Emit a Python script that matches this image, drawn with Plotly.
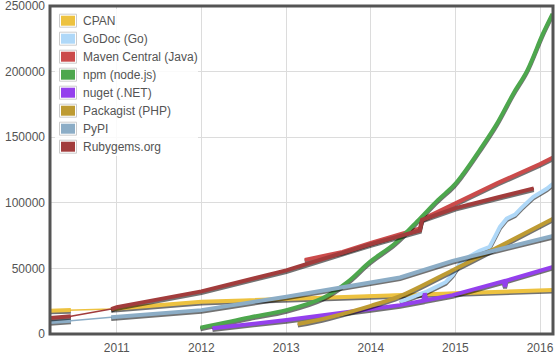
import plotly.graph_objects as go
import pandas as pd

# ---------------- data ----------------
series_names = ["CPAN", "GoDoc (Go)", "Maven Central (Java)", "npm (node.js)",
                "nuget (.NET)", "Packagist (PHP)", "PyPI", "Rubygems.org"]
series_colors = ["#edc240", "#afd8f8", "#cb4b4b", "#4da74d",
                 "#9440ed", "#be9b33", "#8cadc6", "#a23c3c"]

cpan_dates = ["2010-03-19", "2010-06-17", "2010-12-08", "2011-04-01", "2011-08-01",
              "2012-01-01", "2012-07-01", "2013-01-01", "2013-07-01", "2014-01-01",
              "2014-07-01", "2015-01-01", "2015-07-01", "2016-02-26"]
cpan_counts = [17800, 18200, 19000, 20500, 22500, 24500, 25600, 26700, 28000, 29300,
               30600, 31700, 32600, 33600]

godoc_dates = ["2014-05-07", "2014-06-19", "2014-09-01", "2014-11-20", "2014-12-20",
               "2015-01-22", "2015-02-20", "2015-04-15", "2015-05-29", "2015-06-20",
               "2015-07-12", "2015-08-10", "2015-09-15", "2015-10-12", "2015-12-02",
               "2016-01-30", "2016-02-26"]
godoc_counts = [24500, 27500, 32500, 39500, 45000, 54000, 58000, 63500, 66500, 74000,
                81600, 87900, 91000, 96000, 104400, 110700, 114500]

maven_dates = ["2013-03-22", "2013-09-01", "2014-01-01", "2014-08-01", "2014-08-12",
               "2015-01-01", "2015-07-01", "2016-01-01", "2016-02-26"]
maven_counts = [56500, 62500, 69500, 80500, 87500, 99500, 115000, 129500, 134500]

npm_dates = ["2011-12-28", "2012-07-27", "2013-01-02", "2013-06-08", "2013-09-25",
             "2013-12-28", "2014-04-15", "2014-08-01", "2014-10-17", "2014-12-24",
             "2015-02-03", "2015-04-15", "2015-06-28", "2015-09-07", "2015-11-06",
             "2016-01-13", "2016-02-24"]
npm_counts = [4800, 12700, 18200, 27400, 40000, 55000, 69000, 88000, 102000, 113000,
              122000, 140000, 160000, 183000, 200600, 228700, 244000]

nuget_dates = ["2012-02-18", "2013-01-02", "2014-01-01", "2014-05-07", "2014-08-15",
               "2014-08-22", "2014-08-29", "2014-12-20", "2015-07-28", "2015-08-03",
               "2015-08-09", "2016-02-26"]
nuget_counts = [4300, 10600, 19000, 22000, 25300, 31000, 25800, 29600, 40300, 36000,
                40700, 51200]

packagist_dates = ["2013-02-20", "2013-07-01", "2014-01-01", "2014-05-07", "2014-12-20",
                   "2015-08-03", "2016-02-26"]
packagist_counts = [7600, 12500, 21500, 28900, 48600, 68900, 87900]

pypi_dates = ["2010-03-19", "2010-06-17", "2010-12-08", "2012-01-01", "2013-01-02",
              "2014-01-01", "2014-05-07", "2014-12-20", "2015-07-01", "2016-02-26"]
pypi_counts = [9100, 10100, 12700, 18200, 28400, 39000, 43100, 55700, 64500, 74700]

rubygems_dates = ["2010-03-19", "2010-06-17", "2010-12-08", "2011-01-01", "2012-01-01",
                  "2013-01-01", "2014-01-01", "2014-08-01", "2014-08-10", "2015-01-01",
                  "2015-07-01", "2015-12-05"]
rubygems_counts = [12200, 13600, 19000, 20500, 32500, 48500, 68500, 79000, 87000, 96000,
                   104000, 111000]

all_dates = [cpan_dates, godoc_dates, maven_dates, npm_dates, nuget_dates,
             packagist_dates, pypi_dates, rubygems_dates]
all_counts = [cpan_counts, godoc_counts, maven_counts, npm_counts, nuget_counts,
              packagist_counts, pypi_counts, rubygems_counts]

y_tick_values = [0, 50000, 100000, 150000, 200000, 250000]
x_range = ["2010-03-19", "2016-02-26"]
data_gap = ("2010-06-25", "2010-12-01")   # period without samples (thin bridge)
smooth_series = {"npm (node.js)", "Packagist (PHP)"}

# ---------------- layout constants ----------------
W, H = 558, 356
ML, MR, MT, MB = 50, 5, 6, 22
PW, PH = W - ML - MR, H - MT - MB
Y_MAX = 250000
FONT = "Liberation Sans, Arial, sans-serif"
TEXT_COLOR = "#545454"
SHADOW_PX = 1.6
shadow_dy = SHADOW_PX * Y_MAX / PH

gap_a, gap_b = pd.Timestamp(data_gap[0]), pd.Timestamp(data_gap[1])

fig = go.Figure()

for name, color, dates, counts in zip(series_names, series_colors, all_dates, all_counts):
    shape = "spline" if name in smooth_series else "linear"
    # split at the data gap for the thick line
    tx, ty = [], []
    prev = None
    for d, v in zip(dates, counts):
        t = pd.Timestamp(d)
        if prev is not None and prev <= gap_a and t >= gap_b:
            tx.append(None); ty.append(None)
        tx.append(d); ty.append(v)
        prev = t
    # thin bridge through everything
    fig.add_trace(go.Scatter(x=dates, y=counts, mode="lines", name=name,
                             line=dict(color=color, width=1.5, shape=shape),
                             showlegend=False, hoverinfo="skip"))
    # shadow
    fig.add_trace(go.Scatter(x=tx, y=[None if v is None else v - shadow_dy for v in ty],
                             mode="lines",
                             line=dict(color="rgba(0,0,0,0.55)", width=4, shape=shape),
                             showlegend=False, hoverinfo="skip", connectgaps=False))
    # main thick line
    fig.add_trace(go.Scatter(x=tx, y=ty, mode="lines", name=name,
                             line=dict(color=color, width=4, shape=shape),
                             showlegend=False, connectgaps=False))

def px_x(px):
    return (px - ML) / PW

def px_y(py):
    return (H - MB - py) / PH

shapes = []
annotations = []
# legend box
shapes.append(dict(type="rect", xref="paper", yref="paper", layer="above",
                   x0=px_x(55), x1=px_x(198), y0=px_y(9), y1=px_y(156),
                   fillcolor="rgba(255,255,255,0.85)", line=dict(width=0)))
ROW0, ROW_STEP = 20.7, 18.0
for i, (name, color) in enumerate(zip(series_names, series_colors)):
    cy = ROW0 + i * ROW_STEP
    shapes.append(dict(type="rect", xref="paper", yref="paper", layer="above",
                       x0=px_x(59.5), x1=px_x(76.5), y0=px_y(cy - 6.5), y1=px_y(cy + 6.5),
                       fillcolor="white", line=dict(color="#cccccc", width=1)))
    shapes.append(dict(type="rect", xref="paper", yref="paper", layer="above",
                       x0=px_x(61), x1=px_x(75), y0=px_y(cy - 5), y1=px_y(cy + 5),
                       fillcolor=color, line=dict(width=0)))
    annotations.append(dict(xref="paper", yref="paper", x=px_x(81), y=px_y(cy),
                            xanchor="left", yanchor="middle", showarrow=False,
                            text=name, font=dict(family=FONT, size=12, color=TEXT_COLOR)))
# plot border
shapes.append(dict(type="rect", xref="paper", yref="paper", layer="above",
                   x0=0, x1=1, y0=0, y1=1, line=dict(color="#545454", width=3),
                   fillcolor="rgba(0,0,0,0)"))

fig.update_layout(
    width=W, height=H,
    margin=dict(l=ML, r=MR, t=MT, b=MB, pad=0, autoexpand=False),
    paper_bgcolor="white", plot_bgcolor="white",
    showlegend=False,
    font=dict(family=FONT, size=12, color=TEXT_COLOR),
    shapes=shapes, annotations=annotations,
    xaxis=dict(type="date", range=x_range, tick0="2011-01-01", dtick="M12",
               tickformat="%Y", showgrid=True, gridcolor="#dcdcdc", gridwidth=1,
               zeroline=False, showline=False, ticks="", fixedrange=True,
               ticklabelstandoff=5, automargin=False),
    yaxis=dict(range=[0, Y_MAX + 1], tickvals=y_tick_values, tickformat="d",
               showgrid=True, gridcolor="#dcdcdc", gridwidth=1,
               zeroline=False, showline=False, ticks="", fixedrange=True,
               ticklabelstandoff=4, ticklabeloverflow="allow", automargin=False),
)

fig.write_html("out.html", config={"displayModeBar": False},
               post_script="document.body.style.margin='0';")
